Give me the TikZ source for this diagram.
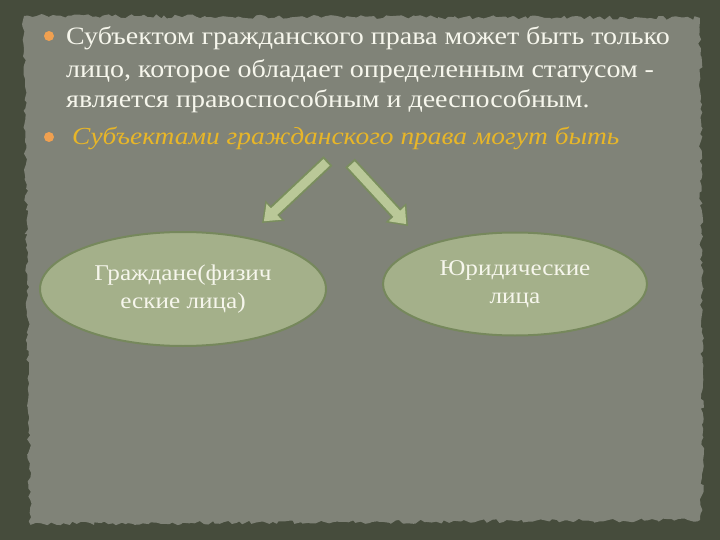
\documentclass[tikz,border=0pt]{standalone}
\usepackage{fontspec}
\setmainfont{Liberation Serif}[FakeStretch=1.12]
\usetikzlibrary{shapes.geometric,arrows.meta,decorations.pathmorphing}

\definecolor{framecol}{RGB}{70,76,60}
\definecolor{papercol}{RGB}{128,131,120}
\definecolor{ovalfill}{RGB}{164,176,138}
\definecolor{ovaledge}{RGB}{118,136,92}
\definecolor{arrowfill}{RGB}{186,200,152}
\definecolor{arrowedge}{RGB}{122,142,94}
\definecolor{bulletcol}{RGB}{240,160,80}
\definecolor{subjcol}{RGB}{232,182,40}
\definecolor{textcol}{RGB}{246,246,236}

\tikzset{
  bullet/.style={circle, fill=bulletcol, inner sep=0pt, minimum size=10pt},
  mainline/.style={anchor=base west, inner sep=0pt, text=textcol,
    font=\fontsize{25}{28}\selectfont},
  oval/.style={ellipse, fill=ovalfill, draw=ovaledge, line width=2pt,
    text=textcol, align=center, font=\fontsize{22.5}{28}\selectfont},
  fatedge/.style={line width=13pt, arrowedge, -{Triangle[length=18pt,width=27pt]}},
  fatbody/.style={line width=9pt, arrowfill, shorten <=2pt, shorten >=2.5pt,
    -{Triangle[length=14pt,width=21pt]}}
}

\begin{document}
\begin{tikzpicture}[x=1pt,y=-1pt]
    \useasboundingbox (0,0) rectangle (720,540);

    % frame and paper
    \fill[framecol] (0,0) rectangle (720,540);
    \pgfmathsetseed{7}
    \fill[papercol, decorate, decoration={random steps, segment length=4pt, amplitude=2pt}]
        (24,16) -- (700,18) -- (703,470) -- (700,520) -- (380,522) -- (30,524) -- cycle;

    % bullet list
    \node[bullet] (b1) at (49,36) {};
    \node[mainline] (l1) at (66,45) {Субъектом гражданского права может быть только};
    \node[mainline] (l2) at (66,78) {лицо, которое обладает определенным статусом -};
    \node[mainline] (l3) at (66,108) {является правоспособным и дееспособным.};
    \node[bullet] (b2) at (49,137) {};
    \node[mainline, text=subjcol, font=\fontsize{24.5}{28}\selectfont\itshape] (l4) at (72,145)
        {Субъектами гражданского права могут быть};

    % ovals
    \node[oval, minimum width=286pt, minimum height=114pt] (gr) at (183,289)
        {Граждане(физич\\еские лица)};
    \node[oval, minimum width=264pt, minimum height=103pt] (ur) at (515,284)
        {Юридические\\лица};

    % arrows
    \coordinate (lt) at (328,161);
    \coordinate (lh) at (262,223);
    \coordinate (rt) at (350,163);
    \coordinate (rh) at (408,226);
    \draw[fatedge] (lt) -- (lh);
    \draw[fatbody] (lt) -- (lh);
    \draw[fatedge] (rt) -- (rh);
    \draw[fatbody] (rt) -- (rh);
\end{tikzpicture}
\end{document}
